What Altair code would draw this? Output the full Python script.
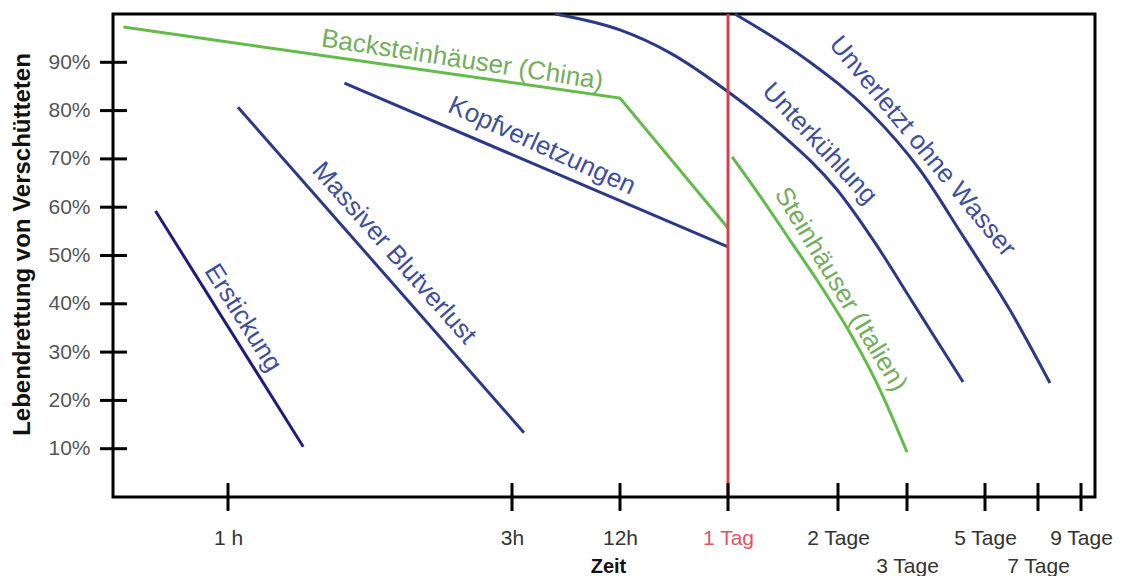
import altair as alt
import pandas as pd

# ---------------- data ----------------
x_tick_hours = [1, 3, 12, 24, 48, 72, 120, 168, 216]
x_tick_labels = ["1 h", "3h", "12h", "1 Tag", "2 Tage", "3 Tage", "5 Tage", "7 Tage", "9 Tage"]
x_low_row = [72, 168]          # labels written on the second row
y_tick_values = [10, 20, 30, 40, 50, 60, 70, 80, 90]

# straight lines (hours, percent)
erstickung_h = [0.37, 1.53]
erstickung_p = [59.2, 10.4]
blutverlust_h = [1.07, 4.0]
blutverlust_p = [80.7, 13.3]
kopf_h = [1.82, 24.0]
kopf_p = [85.7, 51.8]
china_h = [0.09, 12.0, 24.0]
china_p = [97.3, 82.6, 55.7]

# curves
unterk_h = [6.6, 12.0, 17.6, 24.0, 35.3, 47.8, 60.9, 75.7, 106.5]
unterk_p = [100.0, 96.7, 91.9, 83.9, 75.4, 63.6, 52.6, 40.2, 23.8]
unverl_h = [25.5, 41.2, 59.1, 80.0, 106.5, 142.6, 181.4]
unverl_p = [100.0, 90.5, 79.7, 67.7, 54.0, 38.7, 23.6]
italien_h = [24.9, 31.0, 37.5, 44.1, 53.2, 62.6, 72.0]
italien_p = [70.4, 62.3, 53.2, 43.9, 32.9, 22.2, 9.3]

# labels (text, hours, percent)
label_texts = ["Erstickung", "Massiver Blutverlust", "Kopfverletzungen",
               "Backsteinhäuser (China)", "Unterkühlung",
               "Unverletzt ohne Wasser", "Steinhäuser (Italien)"]
label_h = [1.106, 2.17, 5.5, 2.65, 44.0, 81.5, 49.0]
label_p = [37.1, 50.5, 72.7, 90.5, 73.2, 72.6, 43.0]

red_line_hour = [24]

# ---------------- styles ----------------
BLUE = "#2c3a86"
NAVY = "#1e1e78"
GREEN = "#62bb4a"
BLUE_TXT = "#3f4f9c"
GREEN_TXT = "#74ad5e"
RED = "#d8404a"
RED_TXT = "#dd5560"
FONT = "Liberation Sans"

series_color = {
    "Erstickung": NAVY, "Massiver Blutverlust": BLUE, "Kopfverletzungen": BLUE,
    "Backsteinhäuser (China)": GREEN, "Unterkühlung": BLUE,
    "Unverletzt ohne Wasser": BLUE, "Steinhäuser (Italien)": GREEN,
}
label_style = {
    "Erstickung": (57.6, BLUE_TXT),
    "Massiver Blutverlust": (48.5, BLUE_TXT),
    "Kopfverletzungen": (24.5, BLUE_TXT),
    "Backsteinhäuser (China)": (8.7, GREEN_TXT),
    "Unterkühlung": (47, BLUE_TXT),
    "Unverletzt ohne Wasser": (50.5, BLUE_TXT),
    "Steinhäuser (Italien)": (59, GREEN_TXT),
}

def frame(name, hs, ps):
    return pd.DataFrame({"series": name, "hours": hs, "pct": ps, "order": range(len(hs))})

straight = pd.concat([
    frame("Erstickung", erstickung_h, erstickung_p),
    frame("Massiver Blutverlust", blutverlust_h, blutverlust_p),
    frame("Kopfverletzungen", kopf_h, kopf_p),
    frame("Backsteinhäuser (China)", china_h, china_p),
])
curves = pd.concat([
    frame("Unterkühlung", unterk_h, unterk_p),
    frame("Unverletzt ohne Wasser", unverl_h, unverl_p),
    frame("Steinhäuser (Italien)", italien_h, italien_p),
])
labels = pd.DataFrame({"text": label_texts, "hours": label_h, "pct": label_p})
xticks = pd.DataFrame({"hours": x_tick_hours, "label": x_tick_labels})
yticks = pd.DataFrame({"pct": y_tick_values})
redline = pd.DataFrame({"hours": red_line_hour})

W, H = 982, 483
x_domain = [0, 1, 3, 12, 24, 48, 72, 120, 168, 216, 232]
x_range = [0, 115, 399, 507, 615, 725, 794, 872, 925, 968, 982]

label_map = "{" + ",".join(f"'{h}':'{l}'" for h, l in zip(x_tick_hours, x_tick_labels)) + "}"
low_test = " || ".join(f"datum.value === {h}" for h in x_low_row)

x_scale = alt.Scale(domain=x_domain, range=x_range, zero=False, nice=False)
y_scale = alt.Scale(domain=[0, 100], zero=False, nice=False)

x_axis = alt.Axis(
    values=x_tick_hours,
    labelExpr=f"{label_map}[datum.value + '']",
    ticks=False, domain=False, grid=False,
    labelFont=FONT, labelFontSize=21,
    labelColor={"condition": {"test": "datum.value === 24", "value": RED_TXT}, "value": "#333333"},
    labelPadding={"condition": {"test": low_test, "value": 58}, "value": 30},
    labelBaseline="top", labelFlush=False, labelOverlap=False,
    title="Zeit", titleFont=FONT, titleFontSize=20, titleFontWeight="bold",
    titleColor="#111111", titleX=495, titleY=69, titleBaseline="middle",
)
y_axis = alt.Axis(
    values=y_tick_values,
    labelExpr="datum.value + '%'",
    ticks=False, domain=False, grid=False,
    labelFont=FONT, labelFontSize=21, labelColor="#555555", labelPadding=23,
    title="Lebendrettung von Verschütteten", titleFont=FONT, titleFontSize=24,
    titleFontWeight="bold", titleColor="#111111",
    titleX=-91, titleY=230, titleBaseline="middle",
)

base_x = alt.X("hours:Q", scale=x_scale, axis=x_axis)
base_y = alt.Y("pct:Q", scale=y_scale, axis=y_axis)

color_scale = alt.Scale(domain=list(series_color.keys()), range=list(series_color.values()))

straight_layer = alt.Chart(straight).mark_line(strokeWidth=3, interpolate="linear").encode(
    x=base_x, y=base_y,
    color=alt.Color("series:N", scale=color_scale, legend=None),
    detail="series:N", order="order:Q",
)
curve_layer = alt.Chart(curves).mark_line(strokeWidth=3, interpolate="monotone").encode(
    x=alt.X("hours:Q", scale=x_scale), y=alt.Y("pct:Q", scale=y_scale),
    color=alt.Color("series:N", scale=color_scale, legend=None),
    detail="series:N", order="order:Q",
)
red_layer = alt.Chart(redline).mark_rule(color=RED, strokeWidth=3).encode(
    x=alt.X("hours:Q", scale=x_scale),
)
yt_layer = alt.Chart(yticks).mark_rule(color="black", strokeWidth=3).encode(
    y=alt.Y("pct:Q", scale=y_scale), x=alt.value(-13), x2=alt.value(14),
)
xt_layer = alt.Chart(xticks).mark_rule(color="black", strokeWidth=3).encode(
    x=alt.X("hours:Q", scale=x_scale), y=alt.value(H - 14), y2=alt.value(H + 14),
)

text_layers = []
for name in label_texts:
    ang, col = label_style[name]
    text_layers.append(
        alt.Chart(labels[labels.text == name]).mark_text(
            angle=ang, color=col, font=FONT, fontSize=26, align="center", baseline="middle"
        ).encode(
            x=alt.X("hours:Q", scale=x_scale), y=alt.Y("pct:Q", scale=y_scale), text="text:N"
        )
    )

chart = alt.layer(
    straight_layer, curve_layer, red_layer, *text_layers, yt_layer, xt_layer
).properties(
    width=W, height=H,
    autosize=alt.AutoSizeParams(type="none"),
    padding={"left": 105, "top": 6, "right": 25, "bottom": 100},
    background="white",
).configure_view(stroke="black", strokeWidth=3)

chart.save("out.html", embed_options={"renderer": "svg", "actions": False})
